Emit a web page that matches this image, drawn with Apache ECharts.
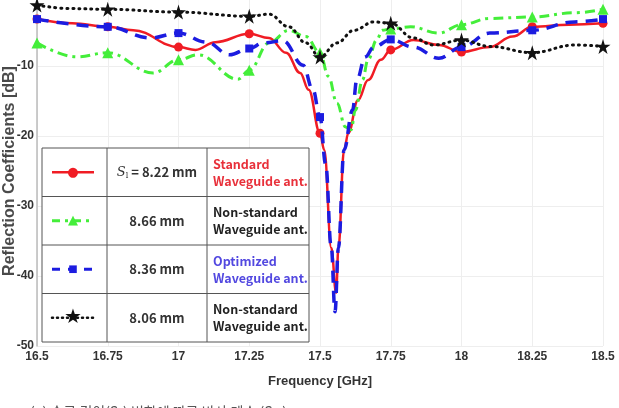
<!DOCTYPE html>
<html>
<head>
<meta charset="utf-8">
<script src="https://cdn.jsdelivr.net/npm/echarts@6/dist/echarts.min.js"></script>
<style>
  html, body { margin: 0; padding: 0; background: #fff; }
  #main { width: 619px; height: 408px; }
</style>
</head>
<body>
<div id="main"></div>
<script>
// 반사 계수 데이터 (x: 주파수 GHz, y: dB)
var redFreq = [16.5, 16.625, 16.75, 16.84, 17, 17.06, 17.13, 17.25, 17.32, 17.38, 17.43, 17.46, 17.5, 17.515, 17.54, 17.557, 17.565, 17.585, 17.6, 17.634, 17.67, 17.715, 17.75, 17.83, 17.92, 18, 18.1, 18.18, 18.25, 18.38, 18.5];
var redDb   = [-3.3, -3.9, -4.4, -4.9, -7.3, -7.7, -6.6, -5.4, -6.0, -8.1, -11.0, -13.4, -19.6, -22.0, -36.0, -42.4, -36.0, -22.0, -19.6, -14.9, -12.0, -9.1, -7.7, -6.3, -7.0, -8.0, -7.3, -5.8, -4.4, -4.1, -3.9];

var greenFreq = [16.5, 16.64, 16.75, 16.91, 17, 17.07, 17.21, 17.25, 17.32, 17.39, 17.45, 17.5, 17.53, 17.56, 17.59, 17.61, 17.625, 17.65, 17.67, 17.7, 17.72, 17.75, 17.82, 17.92, 18, 18.1, 18.25, 18.4, 18.5];
var greenDb   = [-6.7, -8.7, -8.1, -11.0, -9.1, -8.4, -11.9, -10.6, -6.7, -4.9, -5.8, -8.1, -11.5, -15.3, -18.7, -19.1, -16.3, -12.0, -9.1, -6.3, -4.9, -4.7, -4.4, -5.3, -4.1, -3.2, -3.0, -2.4, -1.9];

var blueFreq = [16.5, 16.75, 16.9, 17, 17.1, 17.18, 17.25, 17.3, 17.37, 17.44, 17.475, 17.5, 17.52, 17.54, 17.553, 17.565, 17.585, 17.615, 17.63, 17.66, 17.69, 17.75, 17.83, 17.92, 18, 18.1, 18.25, 18.4, 18.5];
var blueDb   = [-3.3, -4.4, -6.0, -5.3, -6.6, -8.4, -7.5, -6.7, -6.4, -9.9, -13.4, -17.3, -24.0, -36.0, -45.1, -36.0, -22.0, -16.3, -12.0, -8.7, -7.3, -6.2, -7.3, -8.9, -7.3, -5.3, -4.9, -3.7, -3.3];

var blackFreq = [16.5, 16.62, 16.75, 17, 17.25, 17.32, 17.39, 17.45, 17.5, 17.56, 17.62, 17.69, 17.75, 17.83, 17.9, 18, 18.1, 18.25, 18.4, 18.5];
var blackDb   = [-1.3, -1.8, -1.9, -2.3, -2.9, -2.6, -4.4, -6.7, -8.7, -6.7, -4.9, -3.7, -3.9, -6.0, -7.0, -6.3, -7.2, -8.1, -7.0, -7.2];

var seriesNames = ['Standard', 'Non-standard 8.66', 'Optimized', 'Non-standard 8.06'];

var starPath = 'path://M50,0 L61,35 L98,35 L68,57 L79,91 L50,70 L21,91 L32,57 L2,35 L39,35 Z';

function pairs(xs, ys) {
  return xs.map(function (x, i) { return [x, ys[i]]; });
}
// 마커는 0.25 GHz 간격에만 표시
function markSize(size) {
  return function (val) {
    var k = val[0] / 0.25;
    return Math.abs(k - Math.round(k)) < 1e-6 ? size : 0;
  };
}

var myChart = echarts.init(document.getElementById('main'));
var fontTick = { fontFamily: 'Liberation Sans', fontWeight: 'bold', fontSize: 12, color: '#333' };

// 범례 표 (그래프 안쪽)
var tx = 42, ty = 148, tw = 267, rowH = 48.5, c1 = 107, c2 = 207;
var g = [];
g.push({ type: 'rect', shape: { x: tx, y: ty, width: tw, height: rowH * 4 }, style: { fill: '#fff', stroke: '#555', lineWidth: 1 }, z: 100 });
g.push({ type: 'line', shape: { x1: c1, y1: ty, x2: c1, y2: ty + rowH * 4 }, style: { stroke: '#555', lineWidth: 1 }, z: 101 });
g.push({ type: 'line', shape: { x1: c2, y1: ty, x2: c2, y2: ty + rowH * 4 }, style: { stroke: '#555', lineWidth: 1 }, z: 101 });
for (var r = 1; r < 4; r++) {
  g.push({ type: 'line', shape: { x1: tx, y1: ty + rowH * r, x2: tx + tw, y2: ty + rowH * r }, style: { stroke: '#555', lineWidth: 1 }, z: 101 });
}
var legRows = [
  { color: '#f01c24', dash: null, width: 2.5, glyph: '●', gs: 13, mm: '{i|S}{sub|l}{n| = 8.22 mm}', l1: 'Standard', l2: 'Waveguide ant.', tc: '#e8303a' },
  { color: '#44ee3a', dash: [8, 5, 3, 5], width: 3, glyph: '▲', gs: 13, mm: '8.66 mm', l1: 'Non-standard', l2: 'Waveguide ant.', tc: '#222' },
  { color: '#1c1ce0', dash: [8, 8], width: 3, glyph: '■', gs: 10, mm: '8.36 mm', l1: 'Optimized', l2: 'Waveguide ant.', tc: '#5248e0' },
  { color: '#111', dash: [1, 4], width: 2.5, glyph: '★', gs: 20, mm: '8.06 mm', l1: 'Non-standard', l2: 'Waveguide ant.', tc: '#222' }
];
legRows.forEach(function (d, i) {
  var cy = ty + rowH * i + rowH / 2;
  g.push({ type: 'line', shape: { x1: 52, y1: cy, x2: 94, y2: cy }, style: { stroke: d.color, lineWidth: d.width, lineDash: d.dash, lineCap: i === 3 ? 'round' : 'butt' }, z: 102 });
  g.push({
    type: 'text', z: 103,
    style: { text: d.glyph, x: 73, y: cy, align: 'center', verticalAlign: 'middle', fill: d.color, fontSize: d.gs, fontFamily: 'DejaVu Sans' }
  });
  g.push({
    type: 'text', z: 103,
    style: {
      text: d.mm, x: 157, y: cy, align: 'center', verticalAlign: 'middle',
      fill: '#333', fontSize: 13, fontWeight: 'bold', fontFamily: 'Noto Sans CJK KR',
      rich: {
        i: { fontFamily: 'DejaVu Serif', fontStyle: 'italic', fontSize: 13, fill: '#333', fontWeight: 'normal' },
        sub: { fontFamily: 'DejaVu Serif', fontSize: 8, fill: '#333', padding: [8, 0, 0, 0] },
        n: { fontSize: 13, fontWeight: 'bold', fontFamily: 'Noto Sans CJK KR', fill: '#333' }
      }
    }
  });
  g.push({
    type: 'text', z: 103,
    style: { text: d.l1 + '\n' + d.l2, x: 213, y: cy, align: 'left', verticalAlign: 'middle', fill: d.tc, fontSize: 12.5, fontWeight: 'bold', fontFamily: 'Noto Sans CJK KR', lineHeight: 17 }
  });
});
// 하단 캡션 (잘린 부분)
g.push({ type: 'text', z: 10, style: { text: '(a) 슬롯 길이(S₁) 변화에 따른 반사 계수 (S₁₁)', x: 30, y: 405, fill: '#555', fontSize: 14, fontFamily: 'Noto Sans CJK KR' } });

myChart.setOption({
  backgroundColor: '#fff',
  animation: false,
  grid: { left: 37, right: 16, top: -4, bottom: 62, outerBoundsMode: 'none', containLabel: false },
  xAxis: {
    type: 'value', min: 16.5, max: 18.5, interval: 0.25,
    name: 'Frequency [GHz]', nameLocation: 'middle', nameGap: 29,
    nameTextStyle: { fontFamily: 'Liberation Sans', fontWeight: 'bold', fontSize: 13, color: '#333' },
    axisLine: { lineStyle: { color: '#999', width: 1 } },
    axisTick: { inside: true, length: 5, lineStyle: { color: '#999' } },
    axisLabel: Object.assign({ margin: 5 }, fontTick),
    splitLine: { show: true, lineStyle: { color: '#eee', width: 1 } }
  },
  yAxis: {
    type: 'value', min: -50, max: 0, interval: 10,
    name: 'Reflection Coefficients [dB]', nameLocation: 'middle', nameGap: 19, nameMoveOverlap: false,
    nameTextStyle: { fontFamily: 'Liberation Sans', fontWeight: 'bold', fontSize: 16, color: '#4a4a4a' },
    axisLine: { show: true, lineStyle: { color: '#bbb', width: 1.5 } },
    axisTick: { show: false },
    axisLabel: Object.assign({ margin: 3 }, fontTick),
    splitLine: { show: true, lineStyle: { color: '#eee', width: 1 } }
  },
  series: [
    {
      name: seriesNames[0], type: 'line', data: pairs(redFreq, redDb),
      smooth: 0.4, smoothMonotone: 'x', symbol: 'circle', symbolSize: markSize(9),
      lineStyle: { color: '#f01c24', width: 2.5 }, itemStyle: { color: '#f01c24' }, z: 2
    },
    {
      name: seriesNames[1], type: 'line', data: pairs(greenFreq, greenDb),
      smooth: 0.4, smoothMonotone: 'x', symbol: 'triangle', symbolSize: markSize(11),
      lineStyle: { color: '#44ee3a', width: 3, type: [10, 5, 3, 5] }, itemStyle: { color: '#44ee3a' }, z: 3
    },
    {
      name: seriesNames[2], type: 'line', data: pairs(blueFreq, blueDb),
      smooth: 0.4, smoothMonotone: 'x', symbol: 'rect', symbolSize: markSize(8),
      lineStyle: { color: '#1c1ce0', width: 3.5, type: [12, 8] }, itemStyle: { color: '#1c1ce0' }, z: 4
    },
    {
      name: seriesNames[3], type: 'line', data: pairs(blackFreq, blackDb),
      smooth: 0.4, smoothMonotone: 'x', symbol: starPath, symbolSize: markSize(15),
      lineStyle: { color: '#111', width: 3, type: [1, 5], cap: 'round' }, itemStyle: { color: '#111' }, z: 5
    }
  ],
  graphic: g
});
</script>
</body>
</html>
